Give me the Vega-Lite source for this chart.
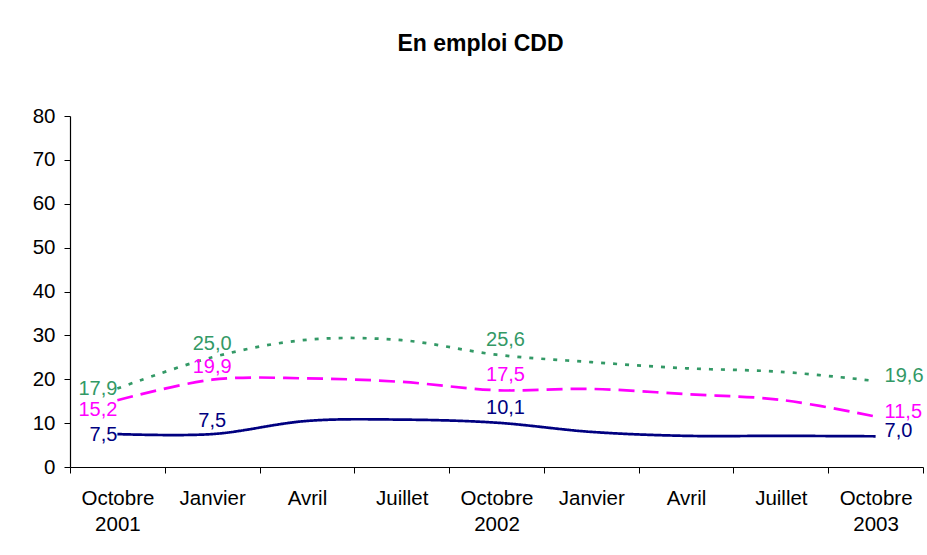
{
  "$schema": "https://vega.github.io/schema/vega-lite/v6.json",
  "width": 853,
  "height": 351,
  "autosize": "none",
  "padding": {"left": 70, "top": 116, "right": 4, "bottom": 88},
  "background": "white",
  "config": {
    "font": "Liberation Sans",
    "view": {"stroke": null},
    "locale": {"number": {"decimal": ",", "thousands": " ", "grouping": [3], "currency": ["", " €"]}},
    "axis": {"grid": false, "domainColor": "black", "domainWidth": 1.2, "tickColor": "black", "labelColor": "black", "labelFont": "Liberation Sans", "labelFontSize": 20.5, "title": null}
  },
  "title": {"text": "En emploi CDD", "font": "Liberation Sans", "fontSize": 23, "fontWeight": "bold", "color": "black", "anchor": "middle", "offset": 50, "dx": -16},
  "data": {"values": [
    {"periode": "Octobre 2001", "serie": "Série 1", "valeur": 17.9},
    {"periode": "Janvier 2002", "serie": "Série 1", "valeur": 25.0},
    {"periode": "Avril 2002", "serie": "Série 1", "valeur": 29.0},
    {"periode": "Juillet 2002", "serie": "Série 1", "valeur": 28.9},
    {"periode": "Octobre 2002", "serie": "Série 1", "valeur": 25.6},
    {"periode": "Janvier 2003", "serie": "Série 1", "valeur": 23.9},
    {"periode": "Avril 2003", "serie": "Série 1", "valeur": 22.5},
    {"periode": "Juillet 2003", "serie": "Série 1", "valeur": 21.7},
    {"periode": "Octobre 2003", "serie": "Série 1", "valeur": 19.6},
    {"periode": "Octobre 2001", "serie": "Série 2", "valeur": 15.2},
    {"periode": "Janvier 2002", "serie": "Série 2", "valeur": 19.9},
    {"periode": "Avril 2002", "serie": "Série 2", "valeur": 20.2},
    {"periode": "Juillet 2002", "serie": "Série 2", "valeur": 19.4},
    {"periode": "Octobre 2002", "serie": "Série 2", "valeur": 17.5},
    {"periode": "Janvier 2003", "serie": "Série 2", "valeur": 17.8},
    {"periode": "Avril 2003", "serie": "Série 2", "valeur": 16.6},
    {"periode": "Juillet 2003", "serie": "Série 2", "valeur": 15.3},
    {"periode": "Octobre 2003", "serie": "Série 2", "valeur": 11.5},
    {"periode": "Octobre 2001", "serie": "Série 3", "valeur": 7.5},
    {"periode": "Janvier 2002", "serie": "Série 3", "valeur": 7.5},
    {"periode": "Avril 2002", "serie": "Série 3", "valeur": 10.5},
    {"periode": "Juillet 2002", "serie": "Série 3", "valeur": 10.8},
    {"periode": "Octobre 2002", "serie": "Série 3", "valeur": 10.1},
    {"periode": "Janvier 2003", "serie": "Série 3", "valeur": 8.0},
    {"periode": "Avril 2003", "serie": "Série 3", "valeur": 7.1},
    {"periode": "Juillet 2003", "serie": "Série 3", "valeur": 7.1},
    {"periode": "Octobre 2003", "serie": "Série 3", "valeur": 7.0}
  ]},
  "encoding": {
    "x": {
      "field": "periode", "type": "nominal", "sort": null,
      "scale": {"type": "band", "paddingInner": 0, "paddingOuter": 0},
      "axis": {"labelAngle": 0, "tickBand": "extent", "tickSize": 6, "labelPadding": 15, "labelLineHeight": 26, "labelBaseline": "top",
        "labelExpr": "indexof(datum.label, 'Octobre') == 0 ? split(datum.label, ' ') : split(datum.label, ' ')[0]"}
    },
    "y": {
      "field": "valeur", "type": "quantitative",
      "scale": {"domain": [0, 80], "nice": false},
      "axis": {"values": [0, 10, 20, 30, 40, 50, 60, 70, 80], "tickSize": 6, "labelPadding": 9}
    },
    "color": {
      "field": "serie", "type": "nominal",
      "scale": {"domain": ["Série 1", "Série 2", "Série 3"], "range": ["#339966", "#FF00FF", "#000080"]},
      "legend": null
    }
  },
  "layer": [
    {
      "mark": {"type": "line", "interpolate": "cardinal", "strokeWidth": 2.7},
      "encoding": {
        "strokeDash": {
          "field": "serie", "type": "nominal",
          "scale": {"domain": ["Série 1", "Série 2", "Série 3"], "range": [[4, 8], [16, 8], [1, 0]]},
          "legend": null
        }
      }
    },
    {
      "transform": [{"filter": "datum.periode == 'Octobre 2001' && datum.serie != 'Série 2'"}],
      "mark": {"type": "text", "align": "right", "baseline": "middle", "dy": 1, "fontSize": 20},
      "encoding": {"text": {"field": "valeur", "type": "quantitative", "format": ".1f"}}
    },
    {
      "transform": [{"filter": "datum.periode == 'Octobre 2001' && datum.serie == 'Série 2'"}],
      "mark": {"type": "text", "align": "right", "baseline": "middle", "dy": 10, "fontSize": 20},
      "encoding": {"text": {"field": "valeur", "type": "quantitative", "format": ".1f"}}
    },
    {
      "transform": [{"filter": "datum.periode == 'Janvier 2002'"}],
      "mark": {"type": "text", "align": "center", "baseline": "bottom", "dy": -3, "fontSize": 20},
      "encoding": {"text": {"field": "valeur", "type": "quantitative", "format": ".1f"}}
    },
    {
      "transform": [{"filter": "datum.periode == 'Octobre 2002'"}],
      "mark": {"type": "text", "align": "center", "baseline": "bottom", "dy": -5, "dx": 9, "fontSize": 20},
      "encoding": {"text": {"field": "valeur", "type": "quantitative", "format": ".1f"}}
    },
    {
      "transform": [{"filter": "datum.periode == 'Octobre 2003'"}],
      "mark": {"type": "text", "align": "left", "baseline": "middle", "dy": -5, "dx": 9, "fontSize": 20},
      "encoding": {"text": {"field": "valeur", "type": "quantitative", "format": ".1f"}}
    }
  ]
}
